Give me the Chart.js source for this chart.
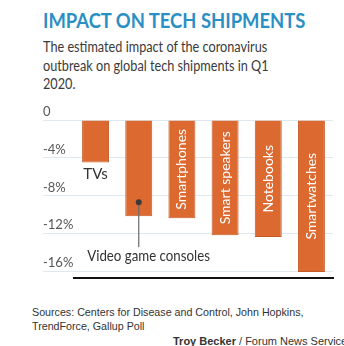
<!DOCTYPE html>
<html>
<head>
<meta charset="utf-8">
<script src="https://cdn.jsdelivr.net/npm/chart.js@4/dist/chart.umd.min.js"></script>
<style>
  html,body{margin:0;padding:0;background:#fff;width:344px;height:346px;overflow:hidden;position:relative}
  #title{position:absolute;left:43px;top:8px;font:bold 20px Lato,sans-serif;color:#2a8fc4;white-space:nowrap;line-height:24px;transform:scaleX(0.92);transform-origin:0 0}
  #sub{position:absolute;left:43px;top:38px;font:14.5px/18.5px Lato,sans-serif;color:#3a3a3a;white-space:nowrap;transform:scaleX(0.875);transform-origin:0 0}
  #wrap{position:absolute;left:0;top:100px;width:344px;height:190px}
  #src{position:absolute;left:32px;top:305px;font:10.7px/14px "Liberation Sans",Arial,sans-serif;color:#333;white-space:nowrap}
  #credit{position:absolute;left:173px;top:334px;font:11px/14px "Liberation Sans",Arial,sans-serif;color:#333;white-space:nowrap}
</style>
</head>
<body>
<div id="title">IMPACT ON TECH SHIPMENTS</div>
<div id="sub">The estimated impact of the coronavirus<br>outbreak on global tech shipments in Q1<br>2020.</div>
<div id="wrap"><canvas id="c" width="344" height="190"></canvas></div>
<div id="src">Sources: Centers for Disease and Control, John Hopkins,<br>TrendForce, Gallup Poll</div>
<div id="credit"><b>Troy Becker</b> / Forum News Service</div>
<script>
const categories = ['TVs', 'Video game consoles', 'Smartphones', 'Smart speakers', 'Notebooks', 'Smartwatches'];
const impact = [-4.5, -10.2, -10.4, -12.2, -12.4, -16.1];
const tickValues = [0, -4, -8, -12, -16];

const placement = {0: 'below', 1: 'callout'}; // others drawn inside the bar

const barLabels = {
  id: 'barLabels',
  afterDatasetsDraw(chart) {
    const ctx = chart.ctx;
    const meta = chart.getDatasetMeta(0);
    meta.data.forEach((bar, i) => {
      const name = categories[i];
      const mode = placement[i] || 'inside';
      ctx.save();
      if (mode === 'inside') {
        ctx.translate(bar.x, (bar.y + bar.base) / 2);
        ctx.rotate(-Math.PI / 2);
        ctx.font = '14px Lato';
        ctx.fillStyle = '#ffffff';
        ctx.textAlign = 'center';
        ctx.textBaseline = 'middle';
        ctx.fillText(name, 0, 0);
      } else if (mode === 'below') {
        ctx.font = '15px Lato';
        ctx.fillStyle = '#333333';
        ctx.textAlign = 'center';
        ctx.textBaseline = 'middle';
        ctx.fillText(name, bar.x, bar.y + 12);
      } else {
        ctx.strokeStyle = '#666a70';
        ctx.lineWidth = 1.2;
        ctx.beginPath();
        ctx.moveTo(bar.x, bar.y - 14);
        ctx.lineTo(bar.x, bar.y + 31);
        ctx.stroke();
        ctx.fillStyle = '#3a3a3a';
        ctx.beginPath();
        ctx.arc(bar.x, bar.y - 14, 3, 0, Math.PI * 2);
        ctx.fill();
        ctx.translate(bar.x - 51.5, bar.y + 40);
        ctx.scale(0.885, 1);
        ctx.font = '15px Lato';
        ctx.fillStyle = '#333333';
        ctx.textAlign = 'left';
        ctx.textBaseline = 'middle';
        ctx.fillText(name, 0, 0);
      }
      ctx.restore();
    });
  }
};

new Chart(document.getElementById('c'), {
  type: 'bar',
  data: {
    labels: categories,
    datasets: [{
      data: impact,
      backgroundColor: '#dc6a30',
      borderColor: '#c65a27',
      borderWidth: 1,
      barPercentage: 0.625,
      categoryPercentage: 1
    }]
  },
  options: {
    responsive: false,
    animation: false,
    events: [],
    layout: { padding: { left: 43, right: 11, top: 20, bottom: 12 } },
    plugins: { legend: { display: false }, tooltip: { enabled: false } },
    scales: {
      x: {
        grid: { display: false, drawTicks: false },
        ticks: { display: false },
        border: { display: true, color: '#111111', width: 2 },
        afterFit(s) { s.height = 0; }
      },
      y: {
        min: -16.74,
        max: 0,
        afterBuildTicks(s) { s.ticks = tickValues.map(v => ({ value: v })); },
        afterFit(s) { s.width = 31; },
        grid: { color: '#dfe7ef', lineWidth: 1, drawTicks: true, tickLength: 31, tickColor: '#dfe7ef' },
        border: { display: false },
        ticks: {
          crossAlign: 'far',
          labelOffset: -8,
          padding: 0,
          color: '#555555',
          font: { family: 'Lato', size: 13 },
          callback: v => v === 0 ? '0' : v + '%'
        }
      }
    }
  },
  plugins: [barLabels]
});
</script>
</body>
</html>
